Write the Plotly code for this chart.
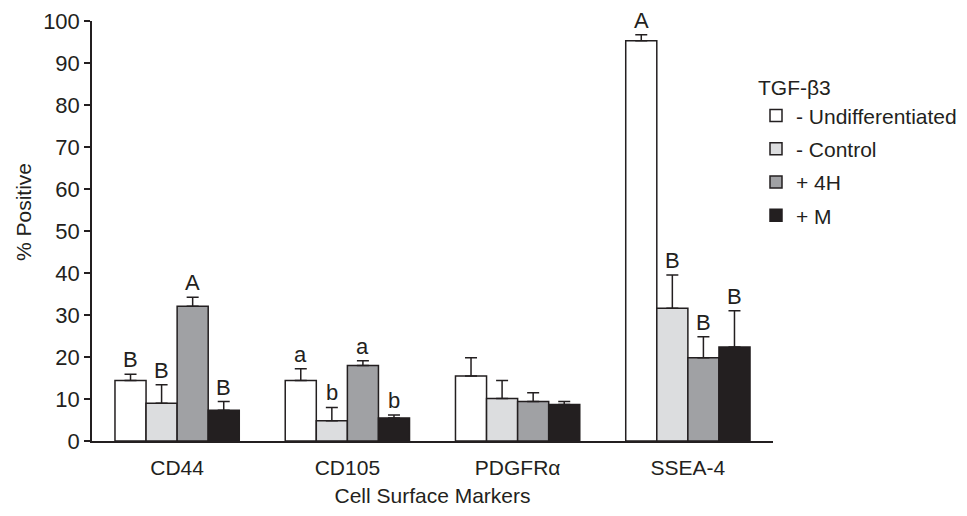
import plotly.graph_objects as go

categories = ["CD44", "CD105", "PDGFRα", "SSEA-4"]
series_names = ["- Undifferentiated", "- Control", "+ 4H", "+ M"]
undiff = [14.4, 14.4, 15.5, 95.3]
control = [9.0, 4.8, 10.1, 31.6]
h4 = [32.1, 18.0, 9.4, 19.8]
m = [7.3, 5.5, 8.7, 22.4]
undiff_err = [1.5, 2.8, 4.3, 1.4]
control_err = [4.4, 3.2, 4.3, 7.9]
h4_err = [2.1, 1.1, 2.1, 5.0]
m_err = [2.1, 0.7, 0.7, 8.6]
undiff_lbl = ["B", "a", "", "A"]
control_lbl = ["B", "b", "", "B"]
h4_lbl = ["A", "a", "", "B"]
m_lbl = ["B", "b", "", "B"]
colors = ["#ffffff", "#dcdddf", "#a0a1a4", "#231f20"]
yticks = [0, 10, 20, 30, 40, 50, 60, 70, 80, 90, 100]

values = [undiff, control, h4, m]
errors = [undiff_err, control_err, h4_err, m_err]
labels = [undiff_lbl, control_lbl, h4_lbl, m_lbl]

INK = "#231f20"
FONT = "Liberation Sans, Arial, Helvetica, sans-serif"
FS = 22
bargap = 0.27

L, R, T, B = 92, 194, 21, 75
W, H = 967, 516
plot_w = W - L - R
plot_h = H - T - B

fig = go.Figure()
for j in range(4):
    fig.add_trace(go.Bar(
        x=categories, y=values[j], name=series_names[j],
        legendgroup=f"g{j}",
        marker=dict(color=colors[j], line=dict(color=INK, width=1.5)),
        error_y=dict(type="data", array=errors[j], arrayminus=[0]*4,
                     symmetric=False, color=INK, thickness=1.5, width=6),
    ))

bw = (1 - bargap) / 4
annotations = []
for j in range(4):
    off = -(1 - bargap) / 2 + bw * (j + 0.5)
    for i in range(4):
        if labels[j][i]:
            annotations.append(dict(
                x=i + off, y=values[j][i] + errors[j][i], xref="x", yref="y",
                text=labels[j][i], showarrow=False, yanchor="bottom",
                yshift=0, font=dict(size=FS, color=INK, family=FONT)))

annotations.append(dict(
    x=(23 - L) / plot_w, y=(441 - 212) / plot_h, xref="paper", yref="paper",
    text="% Positive", showarrow=False, textangle=-90,
    xanchor="center", yanchor="middle",
    font=dict(size=FS - 1, color=INK, family=FONT)))

fig.update_layout(
    width=W, height=H,
    margin=dict(l=L, r=R, t=T, b=B, autoexpand=False),
    paper_bgcolor="white", plot_bgcolor="white",
    barmode="group", bargap=bargap, bargroupgap=0,
    font=dict(family=FONT, size=FS, color=INK),
    showlegend=True,
    legend=dict(
        x=(756 - L) / plot_w, y=(441 - 68) / plot_h, xanchor="left", yanchor="top",
        title=dict(text="TGF-β3", font=dict(size=FS - 1, color=INK)),
        font=dict(size=FS - 1, color=INK),
        traceorder="grouped", tracegroupgap=3,
        itemwidth=30, bgcolor="rgba(0,0,0,0)",
    ),
    xaxis=dict(
        range=[-0.5, 3.5], showline=True, linecolor=INK, linewidth=2,
        ticks="", showgrid=False, zeroline=False, ticklabelstandoff=7,
        tickfont=dict(size=FS - 1, color=INK),
        title=dict(text="Cell Surface Markers", font=dict(size=FS - 1, color=INK), standoff=10),
    ),
    yaxis=dict(
        range=[0, 100], tickvals=yticks, showline=True, linecolor=INK,
        linewidth=1.5, ticks="outside", ticklen=6, tickwidth=1.5, tickcolor=INK,
        showgrid=False, zeroline=False, tickfont=dict(size=FS, color=INK),
    ),
    annotations=annotations,
)

fig.write_html("out.html")
